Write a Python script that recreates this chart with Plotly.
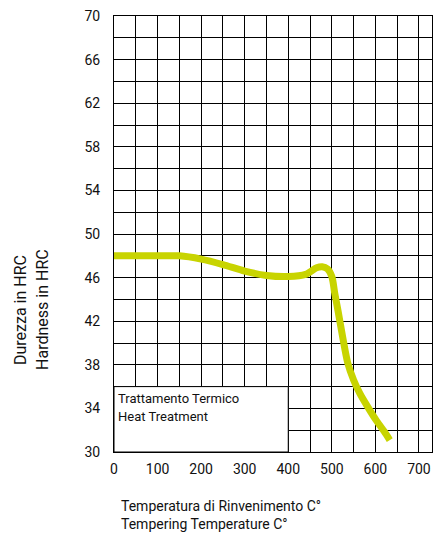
import plotly.graph_objects as go

temperature = [0, 50, 100, 150, 200, 250, 300, 350, 400, 440, 465, 478, 490, 500, 507, 515, 522, 537, 550, 564, 580, 602, 620, 633]
hardness = [48.0, 48.0, 48.0, 48.0, 47.7, 47.2, 46.6, 46.2, 46.1, 46.3, 46.9, 47.0, 46.8, 46.1, 44.5, 42.8, 41.2, 38.1, 36.6, 35.4, 34.3, 32.9, 31.9, 31.1]

x_ticks = [0, 100, 200, 300, 400, 500, 600, 700]
y_ticks = [30, 34, 38, 42, 46, 50, 54, 58, 62, 66, 70]

box_lines = ["Trattamento Termico", "Heat Treatment"]
y_title = ["Durezza in HRC", "Hardness in HRC"]
x_title = ["Temperatura di Rinvenimento C°", "Tempering Temperature C°"]

font_family = "Roboto, DejaVu Sans, sans-serif"

fig = go.Figure()
fig.add_trace(go.Scatter(
    x=temperature, y=hardness, mode="lines",
    line=dict(color="#c8d400", width=7, shape="spline", smoothing=0.8),
    hoverinfo="skip", showlegend=False,
))

fig.add_shape(type="rect", xref="x", yref="y", x0=0, x1=400, y0=30, y1=36,
              fillcolor="white", line=dict(color="black", width=1), layer="above")
fig.add_annotation(xref="x", yref="y", x=4, y=34.9, text=box_lines[0], showarrow=False,
                   xanchor="left", yanchor="middle", font=dict(size=13, color="#111", family=font_family))
fig.add_annotation(xref="x", yref="y", x=4, y=33.3, text=box_lines[1], showarrow=False,
                   xanchor="left", yanchor="middle", font=dict(size=13, color="#111", family=font_family))

for i, t in enumerate(y_title):
    fig.add_annotation(xref="paper", yref="paper", x=-0.292 + 0.069 * i, y=0.326,
                       text=t, textangle=-90, showarrow=False,
                       xanchor="center", yanchor="middle",
                       font=dict(size=16, color="#111", family=font_family))

fig.add_annotation(xref="paper", yref="paper", x=0.017, y=-0.1, yanchor="top", xanchor="left",
                   text=x_title[0] + "<br>" + x_title[1], align="left", showarrow=False,
                   font=dict(size=14, color="#111", family=font_family))

fig.update_xaxes(range=[0, 730], tickvals=x_ticks, ticktext=[str(v) for v in x_ticks],
                 showgrid=True, gridcolor="black", gridwidth=1,
                 minor=dict(dtick=50, tick0=0, showgrid=True, gridcolor="black", gridwidth=1),
                 showline=True, linecolor="black", linewidth=1, mirror=True,
                 zeroline=False, ticks="", ticklabelstandoff=4,
                 tickfont=dict(size=14, color="#111", family=font_family), fixedrange=True)
fig.update_yaxes(range=[30, 70], tickvals=y_ticks, ticktext=[str(v) for v in y_ticks],
                 showgrid=True, gridcolor="black", gridwidth=1,
                 minor=dict(dtick=2, tick0=30, showgrid=True, gridcolor="black", gridwidth=1),
                 showline=True, linecolor="black", linewidth=1, mirror=True,
                 zeroline=False, ticks="", ticklabelstandoff=10,
                 tickfont=dict(size=14, color="#111", family=font_family), fixedrange=True)

fig.update_layout(width=433, height=536, margin=dict(l=114, r=1, t=16, b=84),
                  plot_bgcolor="white", paper_bgcolor="white", showlegend=False)

fig.write_html("out.html", config={"displayModeBar": False},
               post_script="document.body.style.margin='0';document.body.style.overflow='hidden';")
